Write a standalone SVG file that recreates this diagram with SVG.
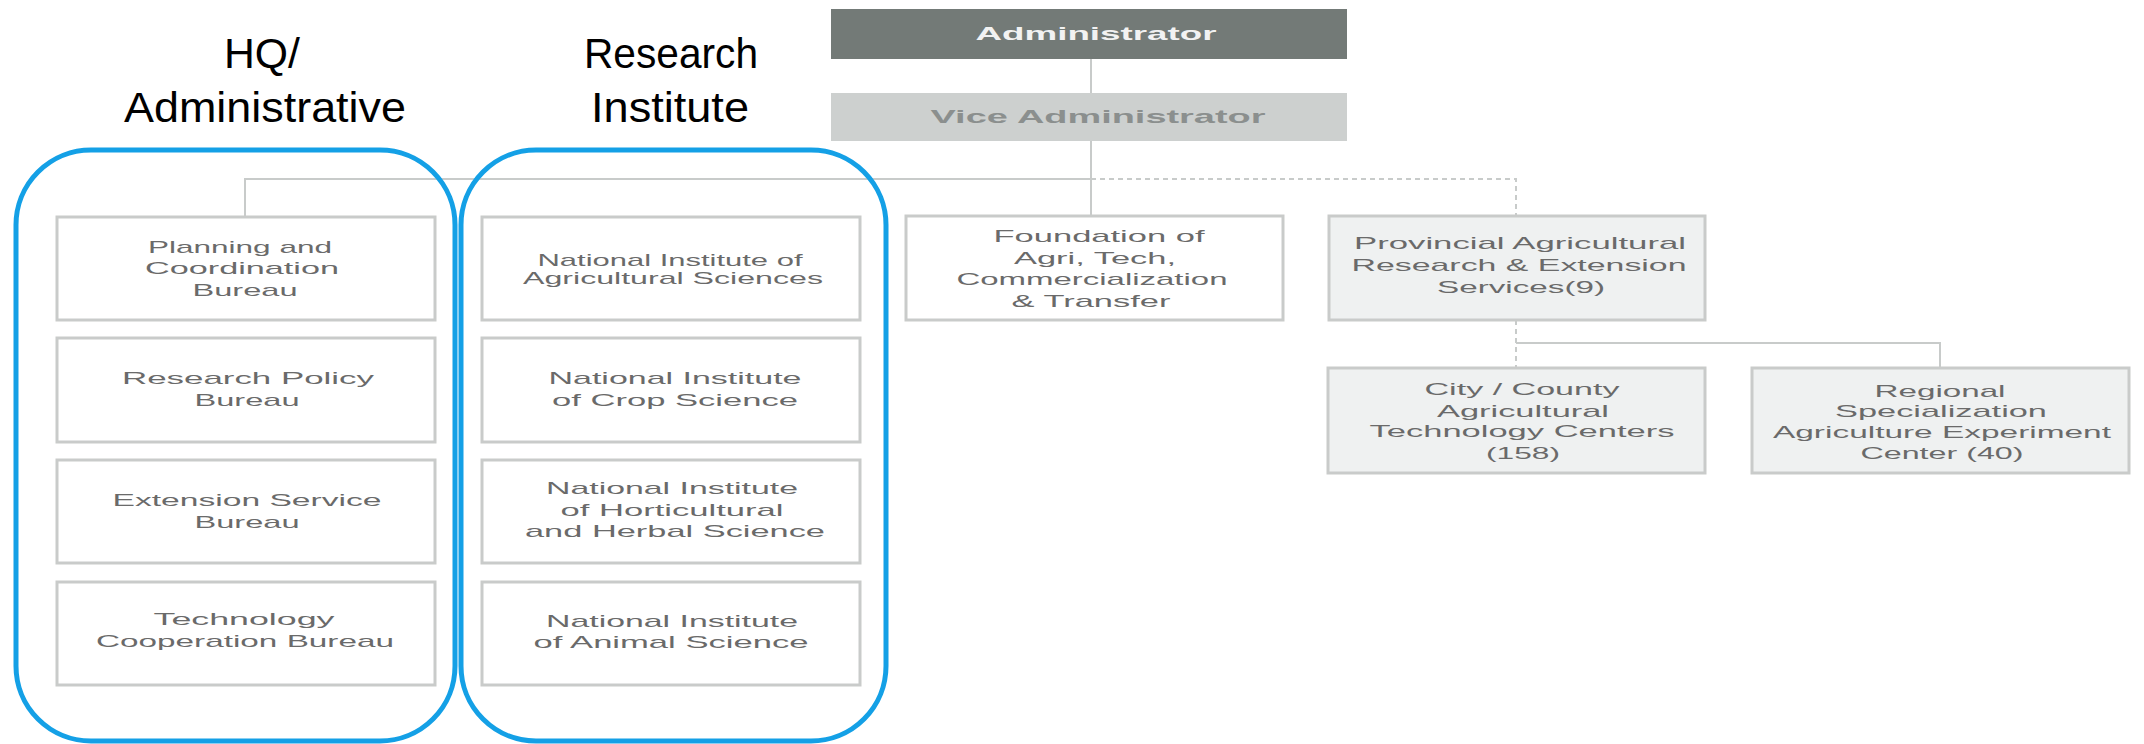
<svg xmlns="http://www.w3.org/2000/svg" width="2144" height="744" viewBox="0 0 2144 744">
<style>
.box{fill:#ffffff;stroke:#c9cbca;stroke-width:3}
.gbox{fill:#eff1f1;stroke:#c9cbca;stroke-width:3}
.t{font-family:"Liberation Sans",Arial,sans-serif;font-size:17px;fill:#6a6a6a;text-anchor:middle}
.h{font-family:"Liberation Sans",Arial,sans-serif;font-size:43px;fill:#000;text-anchor:middle}
.ln{stroke:#c8cbca;stroke-width:2;fill:none}
.dl{stroke:#c8cbca;stroke-width:2;fill:none;stroke-dasharray:5 4}
.grp{fill:none;stroke:#14a0e6;stroke-width:5}
</style>
<rect width="2144" height="744" fill="#ffffff"/>
<g id="connectors">
<line class="ln" x1="1091" y1="59" x2="1091" y2="93"/>
<line class="ln" x1="1091" y1="141" x2="1091" y2="216"/>
<line class="ln" x1="245" y1="179" x2="1091" y2="179"/>
<line class="ln" x1="245" y1="178" x2="245" y2="217"/>
<polyline class="dl" points="1091,179 1516,179 1516,216"/>
<line class="dl" x1="1516" y1="320" x2="1516" y2="368"/>
<polyline class="ln" points="1516,343 1940,343 1940,368"/>
</g>
<g id="labels">
<text class="h" x="262" y="68" textLength="76" lengthAdjust="spacingAndGlyphs">HQ/</text>
<text class="h" x="265" y="122" textLength="282" lengthAdjust="spacingAndGlyphs">Administrative</text>
<text class="h" x="671" y="68" textLength="174" lengthAdjust="spacingAndGlyphs">Research</text>
<text class="h" x="670" y="122" textLength="158" lengthAdjust="spacingAndGlyphs">Institute</text>
</g>
<g id="administrator">
<rect x="831" y="9" width="516" height="50" fill="#737a77"/>
<text x="1096" y="40" textLength="241" lengthAdjust="spacingAndGlyphs" style="font-family:'Liberation Sans',Arial,sans-serif;font-size:19px;font-weight:bold;fill:#f2f2f2;text-anchor:middle">Administrator</text>
</g>
<g id="vice-administrator">
<rect x="831" y="93" width="516" height="48" fill="#cdd0cf"/>
<text x="1098" y="123" textLength="335" lengthAdjust="spacingAndGlyphs" style="font-family:'Liberation Sans',Arial,sans-serif;font-size:19px;font-weight:bold;fill:#8b8f8e;text-anchor:middle">Vice Administrator</text>
</g>
<g id="planning">
<rect class="box" x="57" y="217" width="378" height="103"/>
<text class="t" x="240" y="253" textLength="184" lengthAdjust="spacingAndGlyphs">Planning and</text>
<text class="t" x="242" y="274" textLength="194" lengthAdjust="spacingAndGlyphs">Coordination</text>
<text class="t" x="245" y="296" textLength="105" lengthAdjust="spacingAndGlyphs">Bureau</text>
</g>
<g id="research-policy">
<rect class="box" x="57" y="338" width="378" height="104"/>
<text class="t" x="248" y="384" textLength="252" lengthAdjust="spacingAndGlyphs">Research Policy</text>
<text class="t" x="247" y="406" textLength="105" lengthAdjust="spacingAndGlyphs">Bureau</text>
</g>
<g id="extension">
<rect class="box" x="57" y="460" width="378" height="103"/>
<text class="t" x="247" y="506" textLength="269" lengthAdjust="spacingAndGlyphs">Extension Service</text>
<text class="t" x="247" y="528" textLength="105" lengthAdjust="spacingAndGlyphs">Bureau</text>
</g>
<g id="technology">
<rect class="box" x="57" y="582" width="378" height="103"/>
<text class="t" x="244" y="625" textLength="181" lengthAdjust="spacingAndGlyphs">Technology</text>
<text class="t" x="245" y="647" textLength="298" lengthAdjust="spacingAndGlyphs">Cooperation Bureau</text>
</g>
<g id="nias">
<rect class="box" x="482" y="217" width="378" height="103"/>
<text class="t" x="670" y="266" textLength="265" lengthAdjust="spacingAndGlyphs">National Institute of</text>
<text class="t" x="673" y="284" textLength="300" lengthAdjust="spacingAndGlyphs">Agricultural Sciences</text>
</g>
<g id="nics">
<rect class="box" x="482" y="338" width="378" height="104"/>
<text class="t" x="675" y="384" textLength="253" lengthAdjust="spacingAndGlyphs">National Institute</text>
<text class="t" x="675" y="406" textLength="246" lengthAdjust="spacingAndGlyphs">of Crop Science</text>
</g>
<g id="nihhs">
<rect class="box" x="482" y="460" width="378" height="103"/>
<text class="t" x="672" y="494" textLength="252" lengthAdjust="spacingAndGlyphs">National Institute</text>
<text class="t" x="672" y="516" textLength="223" lengthAdjust="spacingAndGlyphs">of Horticultural</text>
<text class="t" x="675" y="537" textLength="300" lengthAdjust="spacingAndGlyphs">and Herbal Science</text>
</g>
<g id="nias-animal">
<rect class="box" x="482" y="582" width="378" height="103"/>
<text class="t" x="672" y="627" textLength="252" lengthAdjust="spacingAndGlyphs">National Institute</text>
<text class="t" x="671" y="648" textLength="275" lengthAdjust="spacingAndGlyphs">of Animal Science</text>
</g>
<g id="foundation">
<rect class="box" x="906" y="216" width="377" height="104"/>
<text class="t" x="1099" y="242" textLength="211" lengthAdjust="spacingAndGlyphs">Foundation of</text>
<text class="t" x="1095" y="264" textLength="162" lengthAdjust="spacingAndGlyphs">Agri, Tech,</text>
<text class="t" x="1092" y="285" textLength="271" lengthAdjust="spacingAndGlyphs">Commercialization</text>
<text class="t" x="1091" y="307" textLength="159" lengthAdjust="spacingAndGlyphs">&amp; Transfer</text>
</g>
<g id="provincial">
<rect class="gbox" x="1329" y="216" width="376" height="104"/>
<text class="t" x="1520" y="249" textLength="332" lengthAdjust="spacingAndGlyphs">Provincial Agricultural</text>
<text class="t" x="1519" y="271" textLength="335" lengthAdjust="spacingAndGlyphs">Research &amp; Extension</text>
<text class="t" x="1521" y="293" textLength="168" lengthAdjust="spacingAndGlyphs">Services(9)</text>
</g>
<g id="city-county">
<rect class="gbox" x="1328" y="368" width="377" height="105"/>
<text class="t" x="1522" y="395" textLength="195" lengthAdjust="spacingAndGlyphs">City / County</text>
<text class="t" x="1523" y="417" textLength="172" lengthAdjust="spacingAndGlyphs">Agricultural</text>
<text class="t" x="1522" y="437" textLength="305" lengthAdjust="spacingAndGlyphs">Technology Centers</text>
<text class="t" x="1523" y="459" textLength="74" lengthAdjust="spacingAndGlyphs">(158)</text>
</g>
<g id="regional">
<rect class="gbox" x="1752" y="368" width="377" height="105"/>
<text class="t" x="1940" y="397" textLength="131" lengthAdjust="spacingAndGlyphs">Regional</text>
<text class="t" x="1941" y="417" textLength="212" lengthAdjust="spacingAndGlyphs">Specialization</text>
<text class="t" x="1942" y="438" textLength="338" lengthAdjust="spacingAndGlyphs">Agriculture Experiment</text>
<text class="t" x="1942" y="459" textLength="163" lengthAdjust="spacingAndGlyphs">Center (40)</text>
</g>
<g id="group-hq">
<rect class="grp" x="16" y="150" width="439" height="591" rx="75" ry="75"/>
</g>
<g id="group-research">
<rect class="grp" x="461" y="150" width="425" height="591" rx="75" ry="75"/>
</g>
</svg>
